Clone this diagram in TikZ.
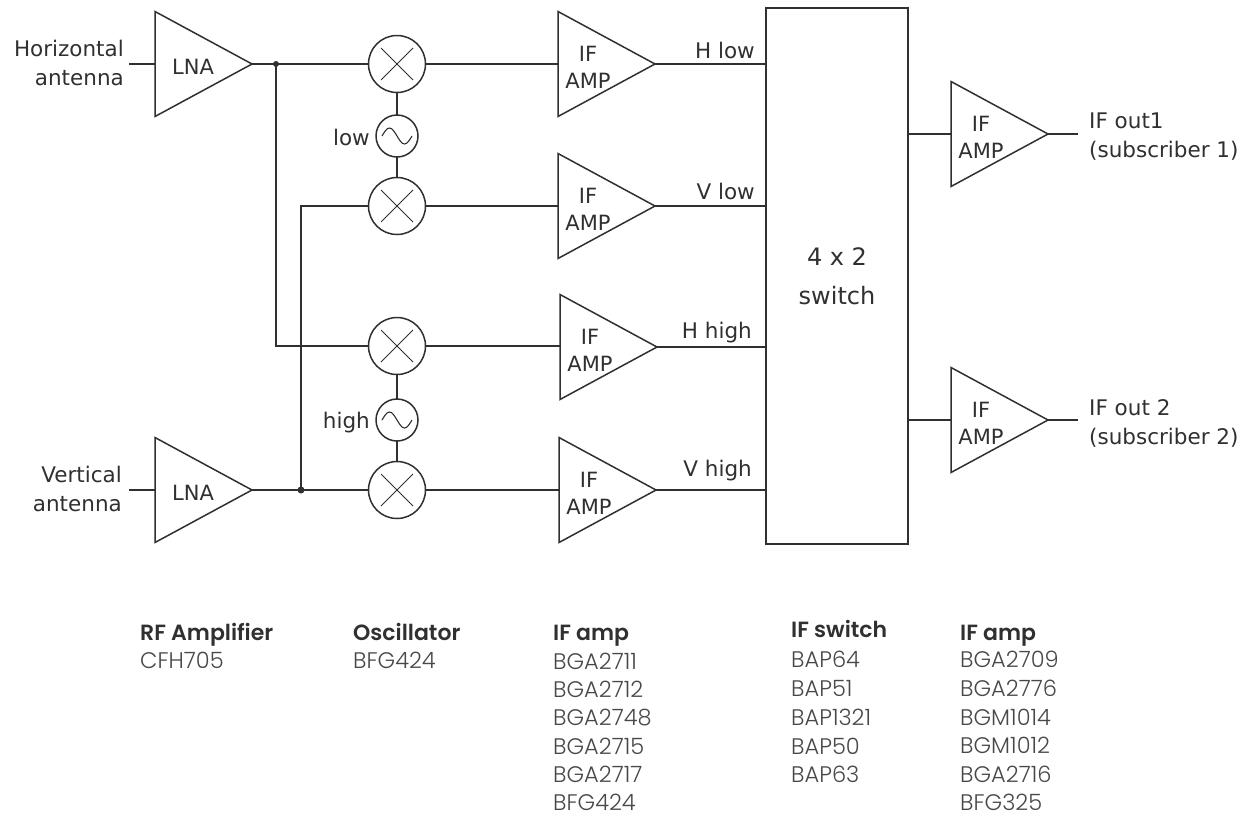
\documentclass[tikz,border=0pt]{standalone}
\usepackage{fontspec}
\setmainfont{DejaVu Sans}
\newfontfamily\partfont{Poppins Light}
\newfontfamily\headfont{Poppins}[BoldFont={Poppins SemiBold}]
\usetikzlibrary{shapes.geometric,calc}
\definecolor{ink}{HTML}{303030}
\definecolor{parttext}{HTML}{484848}
\tikzset{
  wire/.style={draw=ink,line width=1.7pt},
  amp/.style={isosceles triangle,isosceles triangle stretches,draw=ink,line width=1.5pt,fill=white,inner sep=0pt,outer sep=0pt,
    minimum width=105pt,minimum height=97pt,anchor=apex},
  amptext/.style={font=\fontsize{21}{27}\selectfont,text=ink,align=center,inner sep=0pt},
  mixer/.style={circle,draw=ink,line width=1.5pt,fill=white,minimum size=57pt,inner sep=0pt,outer sep=0pt,
    path picture={\draw[ink,line width=1pt] (path picture bounding box.center)+(-16pt,-16pt)--+(16pt,16pt) (path picture bounding box.center)+(-16pt,16pt)--+(16pt,-16pt);}},
  osc/.style={circle,draw=ink,line width=1.5pt,fill=white,minimum size=42pt,inner sep=0pt,outer sep=0pt,
    path picture={\draw[ink,line width=1.1pt,shift={(path picture bounding box.center)}] (-15pt,0pt) sin (-7.5pt,8pt) cos (0pt,0pt) sin (7.5pt,-8pt) cos (15pt,0pt);}},
  lab/.style={font=\fontsize{21.5}{29}\selectfont,text=ink,inner sep=0pt},
  sidelab/.style={lab,align=right,anchor=east},
  outlab/.style={lab,align=left,anchor=west},
  head/.style={font=\headfont\bfseries\fontsize{22}{24}\selectfont,text=ink,inner sep=0pt,anchor=base west},
  part/.style={font=\partfont\fontsize{22.5}{24}\selectfont,text=parttext,inner sep=0pt,anchor=base west},
}
\begin{document}
\begin{tikzpicture}[x=1pt,y=-1pt]
\useasboundingbox (0,0) rectangle (1252,817);
\node[amp] (lna1) at (252,64) {};
\node[amp] (lna2) at (252,490) {};
\node[amp] (a1) at (655,64) {};
\node[amp] (a2) at (655,206) {};
\node[amp] (a3) at (657,347) {};
\node[amp] (a4) at (656,490) {};
\node[amp] (a5) at (1048,134) {};
\node[amp] (a6) at (1048,420) {};
\node[amptext] (lna1t) at (193,67) {LNA};
\node[amptext] (lna2t) at (193,493) {LNA};
\node[amptext] (a1t) at (588,67) {IF\\AMP};
\node[amptext] (a2t) at (588,209) {IF\\AMP};
\node[amptext] (a3t) at (590,350) {IF\\AMP};
\node[amptext] (a4t) at (589,493) {IF\\AMP};
\node[amptext] (a5t) at (981,137) {IF\\AMP};
\node[amptext] (a6t) at (981,423) {IF\\AMP};
\node[mixer] (m1) at (397,64) {};
\node[mixer] (m2) at (397,206) {};
\node[mixer] (m3) at (397,346) {};
\node[mixer] (m4) at (397,490) {};
\node[osc] (o1) at (397,136) {};
\node[osc] (o2) at (397,420) {};
\node[draw=ink,line width=1.7pt,minimum width=142pt,minimum height=536pt,inner sep=0pt,outer sep=0pt,align=center,
  font=\fontsize{24}{39}\selectfont,text=ink] (sw) at (837,276) {4 x 2\\switch};
\coordinate (in1) at (129,64);
\coordinate (in2) at (129,490);
\coordinate (o1end) at (1078,134);
\coordinate (o2end) at (1078,420);
\coordinate (j1) at (276,64);
\coordinate (j2) at (301,490);
\draw[wire] (in1) -- (in1 -| lna1.lower side);
\draw[wire] (in2) -- (in2 -| lna2.lower side);
\draw[wire] (lna1.apex) -- (m1.west);
\draw[wire] (lna2.apex) -- (m4.west);
\draw[wire] (j1) |- (m3.west);
\draw[wire] (j2) |- (m2.west);
\fill[ink] (j1) circle (3pt) (j2) circle (3.5pt);
\draw[wire] (m1) -- (o1);
\draw[wire] (o1) -- (m2);
\draw[wire] (m3) -- (o2);
\draw[wire] (o2) -- (m4);
\foreach \m/\a in {m1/a1,m2/a2,m3/a3,m4/a4}{\draw[wire] (\m.east) -- (\m.east -| \a.lower side);}
\foreach \a in {a1,a2,a3,a4}{\draw[wire] (\a.apex) -- (\a.apex -| sw.west);}
\draw[wire] (a5.apex -| sw.east) -- (a5.apex -| a5.lower side);
\draw[wire] (a6.apex -| sw.east) -- (a6.apex -| a6.lower side);
\draw[wire] (a5.apex) -- (o1end);
\draw[wire] (a6.apex) -- (o2end);
\node[sidelab] (t1) at (124,63) {Horizontal\\antenna};
\node[sidelab] (t2) at (122,489) {Vertical\\antenna};
\node[lab,anchor=east] (tlow) at (370,137) {low};
\node[lab,anchor=east] (thigh) at (370,423) {high};
\node[lab,anchor=east] (hl) at (755,50) {H low};
\node[lab,anchor=east] (vl) at (755,191) {V low};
\node[lab,anchor=east] (hh) at (752,333) {H high};
\node[lab,anchor=east] (vh) at (752,471) {V high};
\node[outlab] (of1) at (1089,137) {IF out1\\(subscriber 1)};
\node[outlab] (of2) at (1089,423) {IF out 2\\(subscriber 2)};
\node[head] (h1) at (140,640) {RF Amplifier};
\node[part] (p1) at (140,668) {CFH705};
\node[head] (h2) at (353,640) {Oscillator};
\node[part] (p2) at (353,668) {BFG424};
\node[head] (h3) at (553,640) {IF amp};
\foreach \t/\y [count=\i] in {BGA2711/669,BGA2712/697,BGA2748/725,BGA2715/754,BGA2717/782,BFG424/810}{\node[part] (pa\i) at (553,\y) {\t};}
\node[head] (h4) at (791,637) {IF switch};
\foreach \t/\y [count=\i] in {BAP64/667,BAP51/696,BAP1321/725,BAP50/754,BAP63/782}{\node[part] (ps\i) at (791,\y) {\t};}
\node[head] (h5) at (960,640) {IF amp};
\foreach \t/\y [count=\i] in {BGA2709/667,BGA2776/696,BGM1014/725,BGM1012/753,BGA2716/782,BFG325/810}{\node[part] (pb\i) at (960,\y) {\t};}
\end{tikzpicture}
\end{document}
